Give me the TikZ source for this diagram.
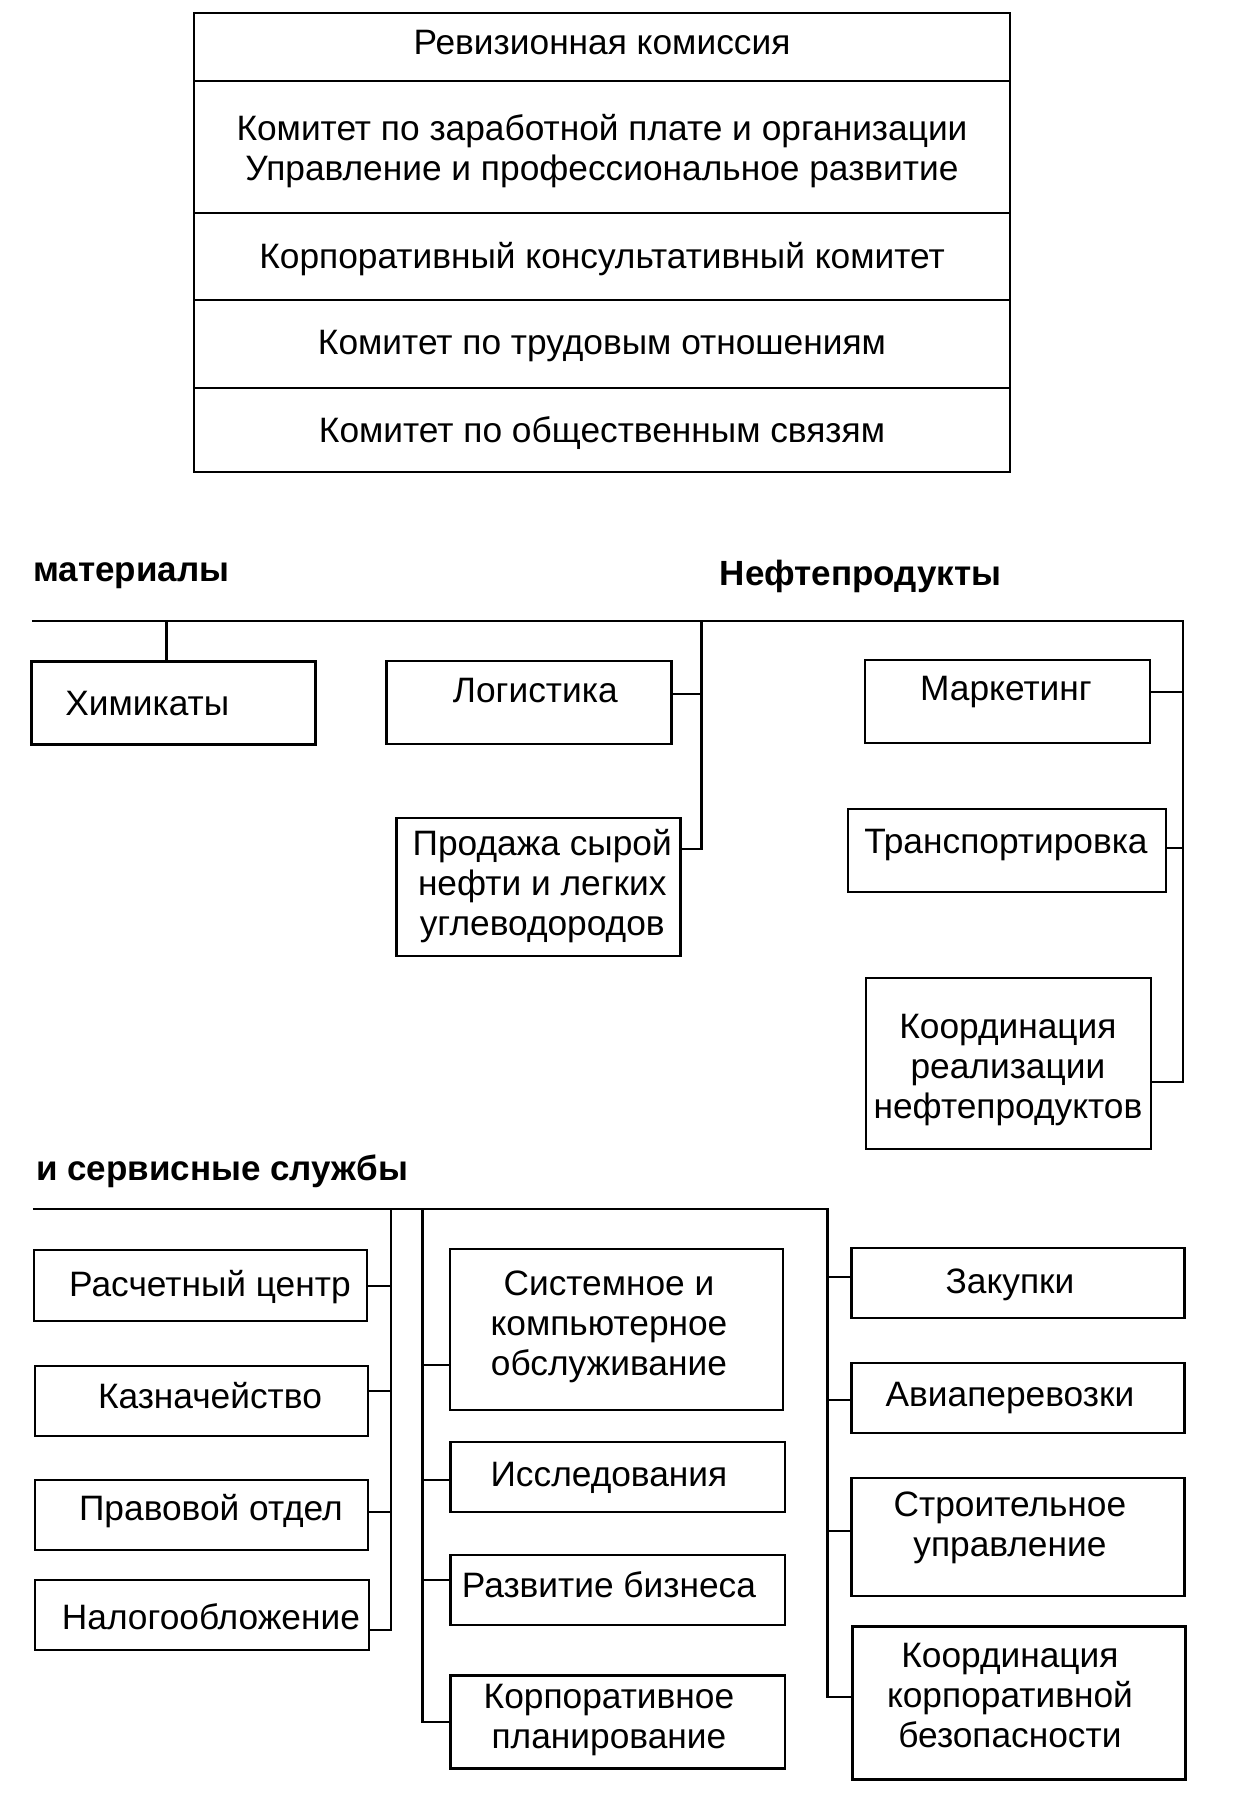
\documentclass[tikz,border=0pt]{standalone}
\usepackage{fontspec}
\setmainfont{Liberation Sans}
\begin{document}
\begin{tikzpicture}[x=0.995pt,y=-1pt,line width=2.8pt,
  box/.style={draw,rectangle,inner sep=0pt},
  txt/.style={inner sep=0pt,align=center,font=\fontsize{35.3}{40}\selectfont},
  head/.style={inner sep=0pt,anchor=west,font=\fontsize{35}{40}\selectfont\bfseries}]
\useasboundingbox (0pt,0pt) rectangle (1232pt,-1819pt);
\fill[white] (0pt,0pt) rectangle (1232pt,-1819pt);
% top stack
\node[box,minimum width=816pt,minimum height=68pt] (r1) at (605,47) {};
\node[box,minimum width=816pt,minimum height=132pt] (r2) at (605,147) {};
\node[box,minimum width=816pt,minimum height=87pt] (r3) at (605,256.5) {};
\node[box,minimum width=816pt,minimum height=88pt] (r4) at (605,344) {};
\node[box,minimum width=816pt,minimum height=84pt] (r5) at (605,430) {};
\node[txt] (r1t) at (605,43) {Ревизионная комиссия};
\node[txt] (r2t) at (605,151) {Комитет по заработной плате и организации\\Управление и профессиональное развитие};
\node[txt] (r3t) at (605,259) {Корпоративный консультативный комитет};
\node[txt] (r4t) at (605,346) {Комитет по трудовым отношениям};
\node[txt] (r5t) at (605,433.5) {Комитет по общественным связям};
% middle headings
\node[head] (hmat) at (32,576) {материалы};
\node[head] (hneft) at (722,576) {Нефтепродукты};
% middle boxes
\node[box,minimum width=284pt,minimum height=83pt] (him) at (174,703) {};
\node[txt] (himt) at (148,704) {Химикаты};
\node[box,minimum width=285pt,minimum height=83pt] (log) at (531.5,702.5) {};
\node[txt] (logt) at (538,691) {Логистика};
\node[box,minimum width=284pt,minimum height=138pt] (prod) at (541,887) {};
\node[txt] (prodt) at (545,886) {Продажа сырой\\нефти и легких\\углеводородов};
\node[box,minimum width=285pt,minimum height=83pt] (mark) at (1012.5,701.5) {};
\node[txt] (markt) at (1011,692) {Маркетинг};
\node[box,minimum width=318pt,minimum height=83pt] (trans) at (1012,850.5) {};
\node[txt] (transt) at (1011,845) {Транспортировка};
\node[box,minimum width=285pt,minimum height=171pt] (koord) at (1013.5,1063.5) {};
\node[txt] (koordt) at (1013,1070) {Координация\\реализации\\нефтепродуктов};
% middle connectors
\coordinate (mL) at (32,621);
\coordinate (mR) at (1189,621);
\coordinate (hj) at (167,621);
\coordinate (lt) at (705,621);
\coordinate (lj) at (705,694);
\coordinate (pj) at (705,849);
\coordinate (mj) at (1189,692);
\coordinate (tj) at (1189,848);
\coordinate (kj) at (1189,1082);
\draw (mL) -- (mR) -- (kj) -- (kj -| koord.east);
\draw (hj) -- (hj |- him.north);
\draw (lt) -- (pj) -- (pj -| prod.east);
\draw (lj -| log.east) -- (lj);
\draw (mj -| mark.east) -- (mj);
\draw (tj -| trans.east) -- (tj);
% bottom heading
\node[head] (hserv) at (35,1171) {и сервисные службы};
% bottom left column
\node[box,minimum width=333pt,minimum height=71pt] (rasch) at (201.5,1285.5) {};
\node[txt] (rascht) at (211,1287) {Расчетный центр};
\node[box,minimum width=333pt,minimum height=70pt] (kazn) at (202.5,1401) {};
\node[txt] (kaznt) at (211,1396) {Казначейство};
\node[box,minimum width=333pt,minimum height=70pt] (prav) at (202.5,1515) {};
\node[txt] (pravt) at (212,1511) {Правовой отдел};
\node[box,minimum width=334pt,minimum height=70pt] (nalog) at (203,1615) {};
\node[txt] (nalogt) at (212,1617) {Налогообложение};
% bottom middle column
\node[box,minimum width=333pt,minimum height=161pt] (sist) at (619.5,1329.5) {};
\node[txt] (sistt) at (612,1327) {Системное и\\компьютерное\\обслуживание};
\node[box,minimum width=334pt,minimum height=70pt] (issl) at (621,1477) {};
\node[txt] (isslt) at (612,1478) {Исследования};
\node[box,minimum width=334pt,minimum height=70pt] (razv) at (621,1590) {};
\node[txt] (razvt) at (612,1585) {Развитие бизнеса};
\node[box,minimum width=334pt,minimum height=93pt] (korpl) at (621,1722) {};
\node[txt] (korplt) at (612,1720) {Корпоративное\\планирование};
% bottom right column
\node[box,minimum width=333pt,minimum height=70pt] (zak) at (1023.5,1283) {};
\node[txt] (zakt) at (1015,1285) {Закупки};
\node[box,minimum width=333pt,minimum height=70pt] (avia) at (1023.5,1398) {};
\node[txt] (aviat) at (1015,1398) {Авиаперевозки};
\node[box,minimum width=333pt,minimum height=118pt] (stroi) at (1023.5,1537) {};
\node[txt] (stroit) at (1015,1528) {Строительное\\управление};
\node[box,minimum width=333pt,minimum height=153pt] (kbez) at (1024.5,1703) {};
\node[txt] (kbezt) at (1015,1696) {Координация\\корпоративной\\безопасности};
% bottom connectors
\coordinate (bL) at (33,1209);
\coordinate (bR) at (832,1209);
\coordinate (b1) at (393,1209);
\coordinate (b2) at (425,1209);
\coordinate (rj) at (393,1286);
\coordinate (kzj) at (393,1391);
\coordinate (prj) at (393,1512);
\coordinate (nj) at (393,1630);
\coordinate (sj) at (425,1365);
\coordinate (ij) at (425,1480);
\coordinate (rzj) at (425,1580);
\coordinate (kpj) at (425,1722);
\coordinate (zj) at (832,1277);
\coordinate (aj) at (832,1400);
\coordinate (stj) at (832,1531);
\coordinate (kbj) at (832,1697);
\draw (bL) -- (bR) -- (kbj) -- (kbj -| kbez.west);
\draw (b1) -- (nj) -- (nj -| nalog.east);
\draw (b2) -- (kpj) -- (kpj -| korpl.west);
\draw (rasch.east |- rj) -- (rj);
\draw (kazn.east |- kzj) -- (kzj);
\draw (prav.east |- prj) -- (prj);
\draw (sj) -- (sj -| sist.west);
\draw (ij) -- (ij -| issl.west);
\draw (rzj) -- (rzj -| razv.west);
\draw (zj) -- (zj -| zak.west);
\draw (aj) -- (aj -| avia.west);
\draw (stj) -- (stj -| stroi.west);
\end{tikzpicture}
\end{document}
